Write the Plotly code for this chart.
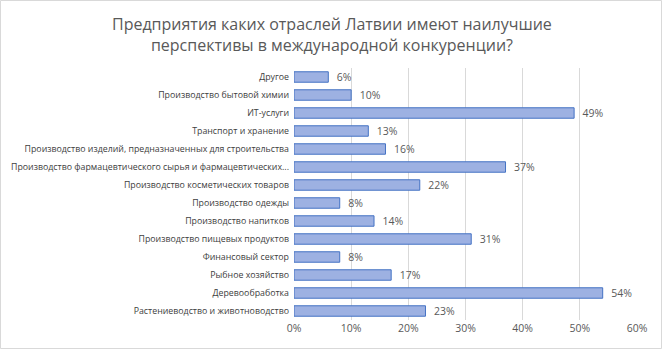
import plotly.graph_objects as go

categories = [
    "Другое",
    "Производство бытовой химии",
    "ИТ-услуги",
    "Транспорт и хранение",
    "Производство изделий, предназначенных для строительства",
    "Производство фармацевтического сырья и фармацевтических...",
    "Производство косметических товаров",
    "Производство одежды",
    "Производство напитков",
    "Производство пищевых продуктов",
    "Финансовый сектор",
    "Рыбное хозяйство",
    "Деревообработка",
    "Растениеводство и животноводство",
]
values = [6, 10, 49, 13, 16, 37, 22, 8, 14, 31, 8, 17, 54, 23]
x_ticks = [0, 10, 20, 30, 40, 50, 60]
x_tick_labels = ["0%", "10%", "20%", "30%", "40%", "50%", "60%"]

L, R, T, B = 294, 26, 68, 30
PW, PH = 663 - L - R, 350 - T - B

fig = go.Figure(go.Bar(
    y=categories,
    x=values,
    orientation="h",
    marker=dict(color="#9DB1E2", line=dict(color="#4472C4", width=1)),
    text=[f"\u00a0\u00a0{v}%" for v in values],
    textposition="outside",
    constraintext="none",
    textfont=dict(color="#595959", size=10.5, family="Open Sans"),
    cliponaxis=False,
))

fig.update_layout(
    width=663, height=350,
    margin=dict(l=L, r=R, t=T, b=B),
    paper_bgcolor="white", plot_bgcolor="white",
    bargap=0.42,
    showlegend=False,
    font=dict(family="Open Sans", color="#595959"),
)
fig.add_annotation(
    text="Предприятия каких отраслей Латвии имеют наилучшие<br>перспективы в международной конкуренции?",
    xref="paper", yref="paper",
    x=(331.5 - L) / PW, y=1 + (T - 34) / PH,
    xanchor="center", yanchor="middle", showarrow=False,
    font=dict(size=16, color="#595959", family="Open Sans"),
)
fig.add_shape(type="rect", xref="paper", yref="paper",
              x0=-(L - 0.5) / PW, x1=1 + (R - 1.5) / PW,
              y0=-(B - 1.5) / PH, y1=1 + (T - 0.5) / PH,
              line=dict(color="#D9D9D9", width=1))
fig.update_xaxes(range=[0, 60], tickvals=x_ticks, ticktext=x_tick_labels,
                 showgrid=True, gridcolor="#D9D9D9", gridwidth=1,
                 zeroline=False, showline=False, automargin=False,
                 tickfont=dict(size=10.5, color="#595959"))
fig.update_yaxes(autorange="reversed", showgrid=False, showline=False,
                 ticks="", ticklabelstandoff=4, automargin=False,
                 tickfont=dict(size=8.8, color="#404040"))

fig.write_html("out.html")
